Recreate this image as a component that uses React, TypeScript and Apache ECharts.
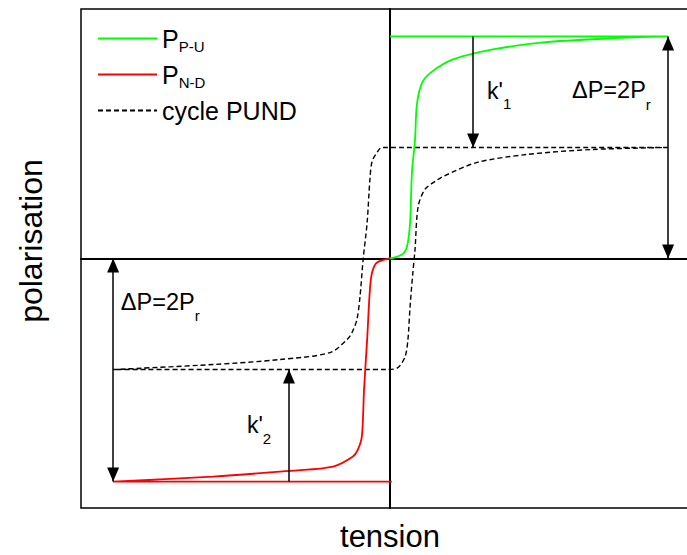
import React, { useEffect, useRef } from "react";
import * as echarts from "echarts";

const FONT = "'Liberation Sans', Arial, Helvetica, sans-serif";

// Saturation / mid levels of polarisation (normalised units)
const levels = { pSat: 0.89, pMid: 0.445, nSat: -0.894, nMid: -0.445 };

// P_P-U : rising curve from origin, then the saturation line back to the axis
const ppuCurve: [number, number][] = [
  [0, 0], [0.039, 0.016], [0.055, 0.048], [0.065, 0.144], [0.071, 0.345],
  [0.081, 0.477], [0.087, 0.617], [0.104, 0.705], [0.136, 0.749], [0.204, 0.798],
  [0.333, 0.838], [0.495, 0.866], [0.712, 0.882], [0.9, 0.89], [0, 0.89],
];

// P_N-D : falling curve from origin, then the saturation line back to the axis
const pndCurve: [number, number][] = [
  [0, 0], [-0.042, -0.016], [-0.058, -0.056], [-0.065, -0.124], [-0.074, -0.325],
  [-0.084, -0.525], [-0.091, -0.713], [-0.104, -0.766], [-0.12, -0.794], [-0.184, -0.834],
  [-0.356, -0.854], [-0.573, -0.874], [-0.896, -0.894], [0.006, -0.894],
];

// cycle PUND (closed loop)
const pundCycle: [number, number][] = [
  [0.9, 0.445], [-0.026, 0.445], [-0.042, 0.425], [-0.058, 0.389], [-0.065, 0.317],
  [-0.074, 0.144], [-0.087, -0.004], [-0.097, -0.152], [-0.107, -0.244], [-0.123, -0.297],
  [-0.139, -0.325], [-0.194, -0.377], [-0.356, -0.405], [-0.573, -0.425], [-0.896, -0.445],
  [-0.006, -0.445], [0.026, -0.437], [0.049, -0.393], [0.058, -0.325], [0.065, -0.192],
  [0.074, -0.056], [0.081, 0.036], [0.091, 0.208], [0.113, 0.277], [0.146, 0.309],
  [0.172, 0.329], [0.282, 0.385], [0.443, 0.417], [0.657, 0.437], [0.9, 0.445],
];

// arrow x positions
const arrowX = { k1: 0.269, dpRight: 0.9, dpLeft: -0.896, k2: -0.327 };

const seriesNames = ["PPU", "PND", "cycle PUND"];

// annotation labels (data coords of left / middle of main text)
const annotations = [
  { main: "k'", sub: "1", x: 0.314, y: 0.671, off: 12.5, size: 23 },
  { main: "ΔP=2P", sub: "r", x: 0.589, y: 0.676, off: 15, size: 23.5 },
  { main: "ΔP=2P", sub: "r", x: -0.871, y: -0.174, off: 14, size: 23.5 },
  { main: "k'", sub: "2", x: -0.463, y: -0.667, off: 13.5, size: 23 },
];

export default function App() {
  const ref = useRef<HTMLDivElement>(null);

  useEffect(() => {
    if (!ref.current) return;
    const chart = echarts.init(ref.current, undefined, { renderer: "svg" });

    const axisCommon = {
      type: "value" as const,
      min: -1,
      max: 1,
      axisLine: { show: true, onZero: true, lineStyle: { color: "#000", width: 2 } },
      axisTick: { show: false },
      axisLabel: { show: false },
      splitLine: { show: false },
    };

    const arrowPair = (x: number, y0: number, y1: number, startSym: string, endSym: string) => [
      { coord: [x, y0], symbol: startSym },
      { coord: [x, y1], symbol: endSym },
    ];

    chart.setOption({
      animation: false,
      backgroundColor: "#fff",
      grid: {
        left: 81,
        top: 9,
        right: 0,
        bottom: 47,
        show: true,
        borderColor: "#000",
        borderWidth: 1.5,
        backgroundColor: "transparent",
      },
      xAxis: axisCommon,
      yAxis: axisCommon,
      legend: {
        data: seriesNames,
        orient: "vertical",
        left: 97,
        top: 26,
        padding: 0,
        itemGap: 8.5,
        itemWidth: 59,
        itemHeight: 14,
        selectedMode: false,
        itemStyle: { color: "transparent", borderColor: "transparent", borderWidth: 0 },
        formatter: (name: string) =>
          name === "PPU" ? "{m|P}{s|P-U}" : name === "PND" ? "{m|P}{s|N-D}" : "{m|cycle PUND}",
        textStyle: {
          color: "#000",
          fontFamily: FONT,
          rich: {
            m: { fontSize: 25, lineHeight: 30, fontFamily: FONT, color: "#000" },
            s: { fontSize: 15, lineHeight: 1, verticalAlign: "bottom", fontFamily: FONT, color: "#000" },
          },
        },
      },
      series: [
        {
          name: "PPU",
          type: "line",
          data: ppuCurve,
          showSymbol: false,
          symbol: "none",
          smooth: 0.3,
          lineStyle: { color: "#00ff00", width: 1.8 },
          itemStyle: { color: "#00ff00" },
          z: 3,
        },
        {
          name: "PND",
          type: "line",
          data: pndCurve,
          showSymbol: false,
          symbol: "none",
          smooth: 0.3,
          lineStyle: { color: "#ff0000", width: 1.8 },
          itemStyle: { color: "#ff0000" },
          z: 3,
        },
        {
          name: "cycle PUND",
          type: "line",
          data: pundCycle,
          showSymbol: false,
          symbol: "none",
          smooth: 0.3,
          lineStyle: { color: "#000", width: 1.4, type: [5, 3] },
          itemStyle: { color: "#000" },
          z: 2,
        },
        {
          name: "arrows",
          type: "line",
          data: [],
          markLine: {
            silent: true,
            animation: false,
            symbolSize: [12, 14],
            symbolOffset: [[0, 7], [0, 7]],
            label: { show: false },
            lineStyle: { color: "#000", width: 1.5, type: "solid" },
            data: [
              arrowPair(arrowX.dpRight, levels.pSat, 0, "triangle", "triangle"),
              arrowPair(arrowX.k1, levels.pSat, levels.pMid, "none", "triangle"),
              arrowPair(arrowX.dpLeft, 0, levels.nSat, "triangle", "triangle"),
              arrowPair(arrowX.k2, levels.nSat, levels.nMid, "none", "triangle"),
            ],
          },
        },
      ],
    });

    const labelGraphics = annotations.map((a) => {
      const p = chart.convertToPixel({ gridIndex: 0 }, [a.x, a.y]) as number[];
      return {
        type: "text",
        x: p[0],
        y: p[1],
        silent: true,
        style: {
          text: `{m|${a.main}}{s|${a.sub}}`,
          align: "left",
          verticalAlign: "middle",
          fill: "#000",
          rich: {
            m: { fontSize: a.size, lineHeight: 26, fontFamily: FONT, fill: "#000" },
            s: { fontSize: 15, lineHeight: 16, padding: [2 * a.off, 0, 0, 0], fontFamily: FONT, fill: "#000" },
          },
        },
      };
    });

    const origin = chart.convertToPixel({ gridIndex: 0 }, [0, 0]) as number[];

    chart.setOption({
      graphic: [
        ...labelGraphics,
        {
          type: "text",
          x: origin[0],
          y: 536,
          silent: true,
          style: {
            text: "tension",
            fontSize: 31,
            fontFamily: FONT,
            fill: "#000",
            align: "center",
            verticalAlign: "middle",
          },
        },
        {
          type: "text",
          x: 31,
          y: 241,
          rotation: Math.PI / 2,
          silent: true,
          style: {
            text: "polarisation",
            fontSize: 32,
            fontFamily: FONT,
            fill: "#000",
            align: "center",
            verticalAlign: "middle",
          },
        },
      ],
    });

    return () => chart.dispose();
  }, []);

  return (
    <div
      ref={ref}
      style={{ position: "fixed", left: 0, top: 0, width: 699, height: 555, background: "#fff" }}
    />
  );
}
